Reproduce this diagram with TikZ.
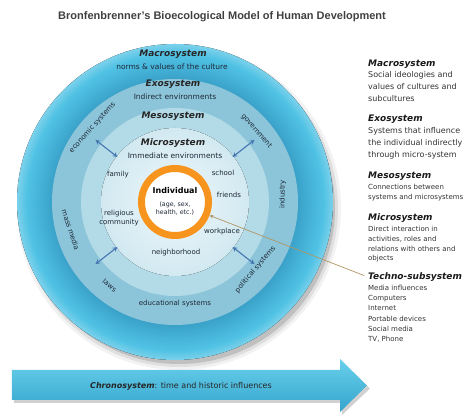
\documentclass[tikz,border=0pt]{standalone}
\usepackage{fontspec}
\setmainfont{DejaVu Sans}
\newfontfamily\titlefont{Liberation Sans}
\definecolor{macroin}{RGB}{56,158,198}
\definecolor{macroout}{RGB}{80,194,228}
\definecolor{exo}{RGB}{140,197,217}
\definecolor{meso}{RGB}{178,218,231}
\definecolor{micro}{RGB}{210,233,241}
\definecolor{microin}{RGB}{238,247,250}
\definecolor{ringorange}{RGB}{247,148,29}
\definecolor{arrowblue}{RGB}{70,118,178}
\definecolor{pointer}{RGB}{176,150,100}
\definecolor{labeltext}{RGB}{30,40,55}
\definecolor{chronotop}{RGB}{105,208,236}
\definecolor{chronobottom}{RGB}{52,164,204}
\pgfdeclareradialshading{macroshade}{\pgfpoint{0bp}{0bp}}{color(0bp)=(macroin); color(19bp)=(macroin); color(23.5bp)=(macroout); color(25bp)=(macroout!75!white); color(50bp)=(macroout!75!white)}
\tikzset{
	system title/.style={
		font=\bfseries\itshape\fontsize{9}{10}\selectfont,
		text=black!85,
		inner sep=0pt
	},
	system text/.style={
		font=\fontsize{7.5}{8}\selectfont,
		text=labeltext,
		inner sep=0pt
	},
	setting/.style={
		font=\fontsize{7}{8.5}\selectfont,
		text=labeltext,
		align=center,
		inner sep=0pt
	},
	ring label/.style={
		font=\fontsize{7}{8}\selectfont,
		text=labeltext,
		inner sep=0pt
	},
	side title/.style={
		font=\bfseries\itshape\fontsize{9}{10}\selectfont,
		text=black!90,
		anchor=base west,
		inner sep=0pt
	},
	side text/.style={
		font=\fontsize{8}{12}\selectfont,
		text=black!80,
		anchor=north west,
		align=left,
		inner sep=0pt
	},
	side small/.style={
		side text,
		font=\fontsize{7}{10.2}\selectfont
	},
	link/.style={
		<->,
		arrowblue,
		line width=1.1pt
	},
}

\begin{document}
\begin{tikzpicture}[x=1pt, y=1pt, >=stealth]

\useasboundingbox (-175,-217) rectangle (299,202);

\node [font=\titlefont\bfseries\fontsize{11}{12}\selectfont, text=black!75] (title) at (47,185)
	{Bronfenbrenner’s Bioecological Model of Human Development};

\foreach \r/\o in {162/0.05, 159/0.08, 156/0.14}
	\fill [black, opacity=\o] (4,-6) circle (\r);

\fill [shading=macroshade] (0,0) circle (158);
\fill [exo] (0,0) circle (123);
\fill [meso] (0,0) circle (94);
\fill [inner color=microin, outer color=micro] (0,0) circle (74);

\node [circle, draw=ringorange, line width=7pt, fill=white, minimum size=67pt, inner sep=0pt] (indiv) at (0,0) {};
\node [font=\bfseries\fontsize{8}{9}\selectfont] (indiv-name) at (0,11) {Individual};
\node [setting, font=\fontsize{6.3}{8}\selectfont] (indiv-info) at (0,-7) {(age, sex,\\health, etc.)};

\foreach \t/\y in {Macrosystem/148, Exosystem/118, Mesosystem/86, Microsystem/59}
	\node [system title] (\t-title) at (-2,\y) {\t};

\node [system text] (macro-text) at (-3,135) {norms \& values of the culture};
\node [system text] (exo-text) at (0,105) {Indirect environments};
\node [system text] (micro-text) at (0,46) {Immediate environments};

\foreach \n/\x/\y/\l in {family/-57/27/family, school/48/29/school, friends/54/7/friends,
		religion/-56/-16/{religious\\community}, workplace/47/-30/workplace, neighborhood/1/-51/neighborhood}
	\node [setting] (\n) at (\x,\y) {\l};

\foreach \n/\a/\r/\rot/\l in {economic/138/111/48/economic systems, government/41/108/-49/government,
		industry/4/108/90/industry, political/-40/105/50/political systems, educational/-90/102/0/educational systems,
		laws/-128/106/-38/laws, media/-165/108/-72/mass media}
	\node [ring label, rotate=\rot] (\n) at (\a:\r) {\l};

\foreach \a [count=\i] in {142, 38, -38, -142} {
	\coordinate (link-\i-in) at (\a:73);
	\coordinate (link-\i-out) at (\a:101);
	\draw [link] (link-\i-in) -- (link-\i-out);
}

\node [side title] (macro-side) at (193,135.5) {Macrosystem};
\node [side text] (macro-desc) at (193,130.5) {Social ideologies and\\values of cultures and\\subcultures};
\node [side title] (exo-side) at (193,80.5) {Exosystem};
\node [side text] (exo-desc) at (193,74.5) {Systems that influence\\the individual indirectly\\through micro-system};
\node [side title] (meso-side) at (193,23.5) {Mesosystem};
\node [side small] (meso-desc) at (193,18) {Connections between\\systems and microsystems};
\node [side title] (micro-side) at (193,-18.5) {Microsystem};
\node [side small, font=\fontsize{7}{9.8}\selectfont] (micro-desc) at (193,-24)
	{Direct interaction in\\activities, roles and\\relations with others and\\objects};
\node [side title] (techno-side) at (193,-77.5) {Techno-subsystem};
\node [side small] (techno-desc) at (193,-83)
	{Media influences\\Computers\\Internet\\Portable devices\\Social media\\TV, Phone};

\draw [->, pointer, line width=0.7pt, shorten <=4pt] (techno-side.west) -- (indiv);

\fill [black, opacity=0.18] (-161,-171) -- (167,-171) -- (167,-160) -- (195,-186.5) -- (167,-213) -- (167,-201) -- (-161,-201) -- cycle;
\shade [top color=chronotop, bottom color=chronobottom] (-163,-168) -- (165,-168) -- (165,-157)
	-- (192,-183.5) -- (165,-210) -- (165,-198) -- (-163,-198) -- cycle;
\node [font=\fontsize{8}{9}\selectfont, text=black!85] (chrono) at (6,-184)
	{\textbf{\textit{Chronosystem}}: time and historic influences};

\end{tikzpicture}
\end{document}
